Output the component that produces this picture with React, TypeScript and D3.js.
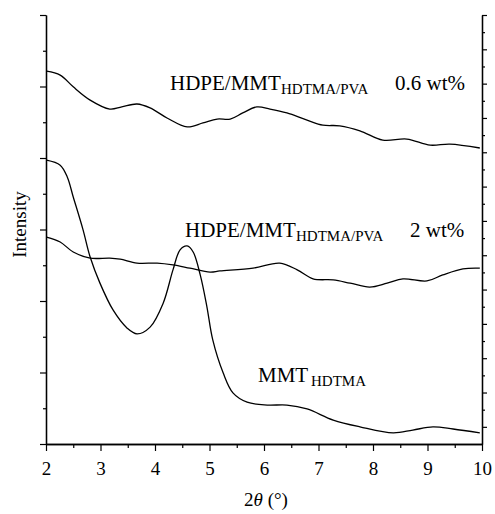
import { useEffect, useRef } from "react"
import * as d3 from "d3"

// 2theta (deg) / intensity (a.u.)
const theta06 = [2.01, 2.26, 2.5, 2.81, 3.17, 3.39, 3.67, 3.91, 4.22, 4.59, 4.88, 5.14, 5.38, 5.61, 5.87, 6.11, 6.42, 6.79, 7.08, 7.39, 7.76, 8.18, 8.62, 9.05, 9.41, 9.96]
const int06 = [10.43, 10.32, 9.99, 9.62, 9.37, 9.43, 9.51, 9.4, 9.12, 8.87, 8.98, 9.09, 9.09, 9.26, 9.43, 9.37, 9.26, 9.06, 8.92, 8.9, 8.76, 8.5, 8.53, 8.36, 8.39, 8.28]

const theta2 = [2.01, 2.26, 2.5, 2.81, 3.17, 3.36, 3.67, 4.04, 4.33, 4.64, 5.01, 5.19, 5.8, 6.29, 6.61, 6.9, 7.27, 7.58, 7.94, 8.26, 8.55, 8.99, 9.28, 9.65, 9.96]
const int2 = [5.79, 5.65, 5.37, 5.2, 5.2, 5.17, 5.06, 5.06, 5.01, 4.92, 4.81, 4.84, 4.92, 5.06, 4.87, 4.62, 4.59, 4.5, 4.39, 4.5, 4.62, 4.56, 4.73, 4.9, 4.92]

const thetaMMT = [2.01, 2.26, 2.39, 2.5, 2.68, 2.81, 2.99, 3.23, 3.49, 3.67, 3.91, 4.15, 4.33, 4.46, 4.59, 4.7, 4.83, 4.95, 5.06, 5.25, 5.43, 5.69, 6.06, 6.42, 6.79, 7.27, 7.76, 8.37, 8.73, 9.1, 9.47, 9.96]
const intMMT = [7.94, 7.8, 7.47, 6.91, 5.99, 5.23, 4.5, 3.75, 3.24, 3.08, 3.27, 3.94, 4.87, 5.43, 5.54, 5.37, 4.73, 3.86, 2.91, 1.99, 1.43, 1.17, 1.09, 1.09, 0.98, 0.67, 0.48, 0.31, 0.39, 0.48, 0.42, 0.31]

const xTicks = [2, 3, 4, 5, 6, 7, 8, 9, 10]

const FONT = "'Liberation Serif', 'DejaVu Serif', serif"

export default function App() {
  const svgRef = useRef<SVGSVGElement>(null)

  useEffect(() => {
    if (!svgRef.current) return
    const svg = d3.select(svgRef.current)
    svg.selectAll("*").remove()

    const left = 46, right = 482, top = 15, bottom = 444

    const x = d3.scaleLinear().domain([2, 10]).range([left, right])
    const y = d3.scaleLinear().domain([0, 12]).range([bottom, top])
    const yRight = d3.scaleLinear().domain([0, 25]).range([bottom, top])

    const styleAxis = (g: any) => {
      g.selectAll("path").attr("stroke", "#000").attr("stroke-width", 1.3)
      g.selectAll("line").attr("stroke", "#000").attr("stroke-width", 1.2)
    }

    // bottom axis: minor halves, major integers
    svg.append("g")
      .attr("transform", `translate(0,${bottom})`)
      .call(d3.axisBottom(x).tickValues(d3.range(2.5, 10, 1)).tickSize(4).tickSizeOuter(0).tickFormat(() => ""))
      .call(styleAxis)
    const xa = svg.append("g")
      .attr("transform", `translate(0,${bottom})`)
      .call(d3.axisBottom(x).tickValues(xTicks).tickSize(7).tickSizeOuter(0).tickPadding(11).tickFormat(d3.format("d")))
      .call(styleAxis)
    xa.selectAll("text").attr("fill", "#000").style("font-size", "19px").style("font-family", FONT)

    // left axis
    svg.append("g")
      .attr("transform", `translate(${left},0)`)
      .call(d3.axisLeft(y).tickValues(d3.range(1, 12, 2)).tickSize(3).tickSizeOuter(0).tickFormat(() => ""))
      .call(styleAxis)
    svg.append("g")
      .attr("transform", `translate(${left},0)`)
      .call(d3.axisLeft(y).tickValues(d3.range(0, 13, 2)).tickSize(6).tickSizeOuter(0).tickFormat(() => ""))
      .call(styleAxis)

    // right axis
    svg.append("g")
      .attr("transform", `translate(${right},0)`)
      .call(d3.axisRight(yRight).tickValues(d3.range(2, 25, 2)).tickSize(3).tickSizeOuter(0).tickFormat(() => ""))
      .call(styleAxis)
    svg.append("g")
      .attr("transform", `translate(${right},0)`)
      .call(d3.axisRight(yRight).tickValues(d3.range(1, 26, 2)).tickSize(5).tickSizeOuter(0).tickFormat(() => ""))
      .call(styleAxis)

    // curves
    const line = d3.line<[number, number]>()
      .x((d) => x(d[0]))
      .y((d) => y(d[1]))
      .curve(d3.curveCatmullRom.alpha(0.5))

    const series = [
      d3.zip(theta06, int06),
      d3.zip(theta2, int2),
      d3.zip(thetaMMT, intMMT),
    ] as [number, number][][]

    svg.selectAll(".curve")
      .data(series)
      .enter()
      .append("path")
      .attr("class", "curve")
      .attr("d", (d) => line(d))
      .attr("fill", "none")
      .attr("stroke", "#000")
      .attr("stroke-width", 1.3)

    // labels
    const label = (main: string, sub: string, tail: string, xMain: number, xSub: number, xTail: number, yb: number) => {
      const t = svg.append("text").style("font-family", FONT).attr("fill", "#000")
      t.append("tspan").attr("x", xMain).attr("y", yb).style("font-size", "21px").text(main)
      t.append("tspan").attr("x", xSub).attr("y", yb + 4).style("font-size", "15px").text(sub)
      if (tail) t.append("tspan").attr("x", xTail).attr("y", yb).style("font-size", "21px").text(tail)
    }
    label("HDPE/MMT", "HDTMA/PVA", "0.6 wt%", 170, 281, 395, 90)
    label("HDPE/MMT", "HDTMA/PVA", "2 wt%", 185, 296, 410, 237)
    label("MMT", "HDTMA", "", 258, 311, 0, 382)

    // axis titles
    const xt = svg.append("text")
      .attr("x", (left + right) / 2 + 2)
      .attr("y", 506)
      .attr("text-anchor", "middle")
      .style("font-family", FONT)
      .style("font-size", "19px")
      .attr("fill", "#000")
    xt.append("tspan").text("2")
    xt.append("tspan").attr("font-style", "italic").text("θ")
    xt.append("tspan").text(" (°)")

    svg.append("text")
      .attr("transform", `translate(26,${(top + bottom) / 2 - 5}) rotate(-90)`)
      .attr("text-anchor", "middle")
      .style("font-family", FONT)
      .style("font-size", "19px")
      .attr("fill", "#000")
      .text("Intensity")
  }, [])

  return (
    <svg
      ref={svgRef}
      width={495}
      height={514}
      style={{ position: "absolute", left: 0, top: 0, background: "#fff" }}
    />
  )
}
